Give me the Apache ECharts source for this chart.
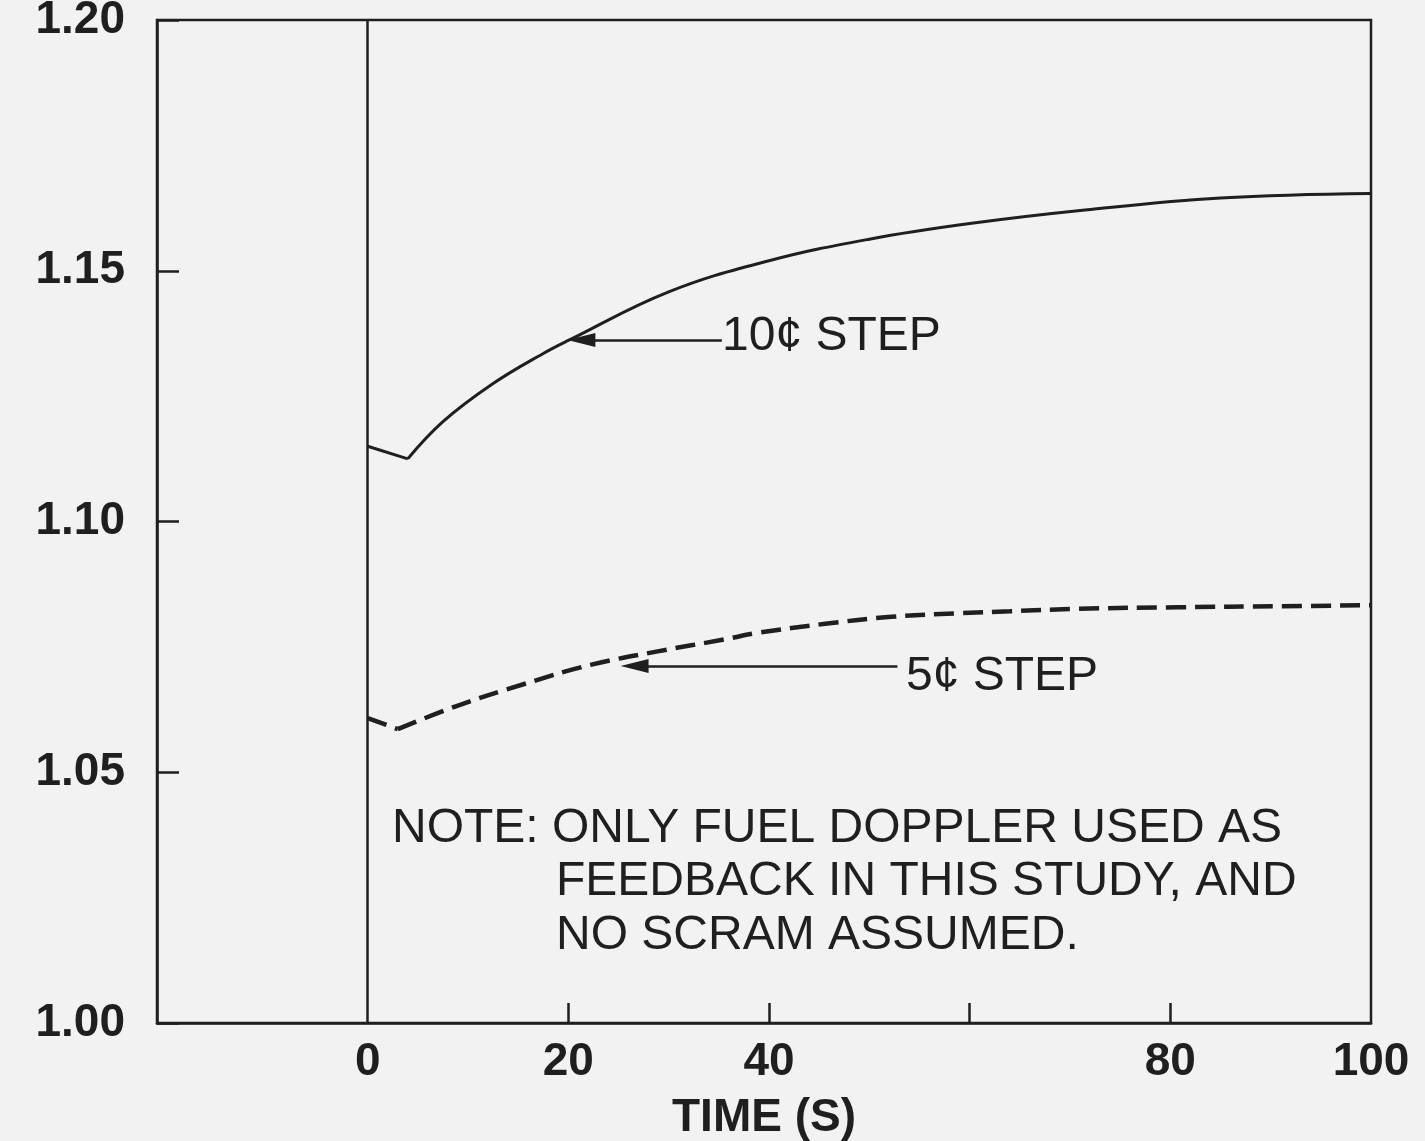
<!DOCTYPE html>
<html>
<head>
<meta charset="utf-8">
<script src="https://cdn.jsdelivr.net/npm/echarts@6/dist/echarts.min.js"></script>
<style>
html,body{margin:0;padding:0;background:#f2f2f2;}
#c{width:1425px;height:1141px;}
</style>
</head>
<body>
<div id="c"></div>
<script>
// 10 cent step curve
const time10 = [0, 4, 7.5, 12.5, 17.5, 20, 30, 40, 50, 60, 71.5, 85, 100];
const power10 = [1.1150, 1.1125, 1.1199, 1.1275, 1.1335, 1.1361, 1.1458, 1.1520, 1.1563, 1.1594, 1.1621, 1.1645, 1.1654];
// 5 cent step curve
const time5 = [0, 3, 9, 15.6, 22.2, 28.9, 35.6, 38.9, 45.6, 52.2, 58.9, 64, 70.8, 80.8, 90.7, 100];
const power5 = [1.0608, 1.0586, 1.0633, 1.0676, 1.0714, 1.0741, 1.0765, 1.0778, 1.0796, 1.0810, 1.0817, 1.0821, 1.0826, 1.0829, 1.0831, 1.0833];
// axis ticks
const xLabelValues = [0, 20, 40, 80, 100];
const xTickValues = [20, 40, 60, 80];
const yMin = 1.00, yMax = 1.20, yStep = 0.05;
const xMin = -21, xMax = 100;
const seriesNames = ['10¢ STEP', '5¢ STEP'];
const noteLines = ['NOTE: ONLY FUEL DOPPLER USED AS', 'FEEDBACK IN THIS STUDY, AND', 'NO SCRAM ASSUMED.'];

const ink = '#1f1f1f';
const font = 'Liberation Sans, Arial, sans-serif';

function pairs(ts, vs, from, to) {
  return ts.slice(from, to).map((t, i) => [t, vs[from + i]]);
}
// index of the dip (end of the initial straight drop)
const dip10 = 1, dip5 = 1;

const style10 = {color: ink, width: 3};
const style5 = {color: ink, width: 4.5, type: [20, 9]};

const chart = echarts.init(document.getElementById('c'), null, {renderer: 'canvas'});
chart.setOption({
  animation: false,
  backgroundColor: '#f2f2f2',
  grid: {
    left: 157, right: 54, top: 20, bottom: 118,
    show: true, borderColor: ink, borderWidth: 2.5, backgroundColor: 'transparent',
    outerBoundsMode: 'none'
  },
  xAxis: {
    type: 'value', min: xMin, max: xMax,
    name: 'TIME (S)', nameLocation: 'middle', nameGap: 72,
    nameTextStyle: {fontFamily: font, fontWeight: 'bold', fontSize: 46, color: ink},
    axisLine: {show: true, onZero: false, lineStyle: {color: ink, width: 2.5}},
    axisTick: {show: true, inside: true, length: 20, customValues: xTickValues, lineStyle: {color: ink, width: 2.5}},
    axisLabel: {show: true, customValues: xLabelValues, margin: 16, fontFamily: font, fontWeight: 'bold', fontSize: 46, color: ink},
    splitLine: {show: false}
  },
  yAxis: {
    type: 'value', min: yMin, max: yMax, interval: yStep,
    axisLine: {show: true, onZero: false, lineStyle: {color: ink, width: 2.5}},
    axisTick: {show: true, inside: true, length: 22, lineStyle: {color: ink, width: 2.5}},
    axisLabel: {margin: 32, fontFamily: font, fontWeight: 'bold', fontSize: 46, color: ink,
      formatter: v => v.toFixed(2)},
    splitLine: {show: false}
  },
  series: [
    {
      name: seriesNames[0], type: 'line',
      data: pairs(time10, power10, 0, dip10 + 1),
      showSymbol: false, smooth: false,
      lineStyle: style10,
      markLine: {
        silent: true, symbol: 'none', animation: false,
        label: {show: false},
        lineStyle: {color: ink, width: 2.5, type: 'solid'},
        data: [{xAxis: 0}]
      }
    },
    {
      name: seriesNames[0], type: 'line',
      data: pairs(time10, power10, dip10),
      showSymbol: false, smooth: 0.4,
      lineStyle: style10,
      markLine: {
        silent: true, symbol: 'none', animation: false,
        label: {show: false},
        lineStyle: {color: ink, width: 2.5, type: 'solid'},
        data: [[
          {coord: [35.3, 1.1362], symbol: 'none'},
          {coord: [21.3, 1.1362], symbol: 'triangle', symbolSize: [14, 28]}
        ]]
      }
    },
    {
      name: seriesNames[1], type: 'line',
      data: pairs(time5, power5, 0, dip5 + 1),
      showSymbol: false, smooth: false,
      lineStyle: style5
    },
    {
      name: seriesNames[1], type: 'line',
      data: pairs(time5, power5, dip5),
      showSymbol: false, smooth: 0.4,
      lineStyle: style5,
      markLine: {
        silent: true, symbol: 'none', animation: false,
        label: {show: false},
        lineStyle: {color: ink, width: 2.5, type: 'solid'},
        data: [[
          {coord: [52.8, 1.0712], symbol: 'none'},
          {coord: [26.6, 1.0712], symbol: 'triangle', symbolSize: [14, 28]}
        ]]
      }
    }
  ],
  graphic: [
    {type: 'text', x: 722, y: 337, silent: true,
      style: {text: seriesNames[0], fontFamily: font, fontSize: 48, fill: ink, align: 'left', verticalAlign: 'middle'}},
    {type: 'text', x: 906, y: 677, silent: true,
      style: {text: seriesNames[1], fontFamily: font, fontSize: 48, fill: ink, align: 'left', verticalAlign: 'middle'}},
    {type: 'text', x: 392, y: 829, silent: true,
      style: {text: noteLines[0], fontFamily: font, fontSize: 48, fill: ink, align: 'left', verticalAlign: 'middle'}},
    {type: 'text', x: 556, y: 882, silent: true,
      style: {text: noteLines[1], fontFamily: font, fontSize: 48, fill: ink, align: 'left', verticalAlign: 'middle'}},
    {type: 'text', x: 556, y: 936, silent: true,
      style: {text: noteLines[2], fontFamily: font, fontSize: 48, fill: ink, align: 'left', verticalAlign: 'middle'}}
  ]
});
</script>
</body>
</html>
